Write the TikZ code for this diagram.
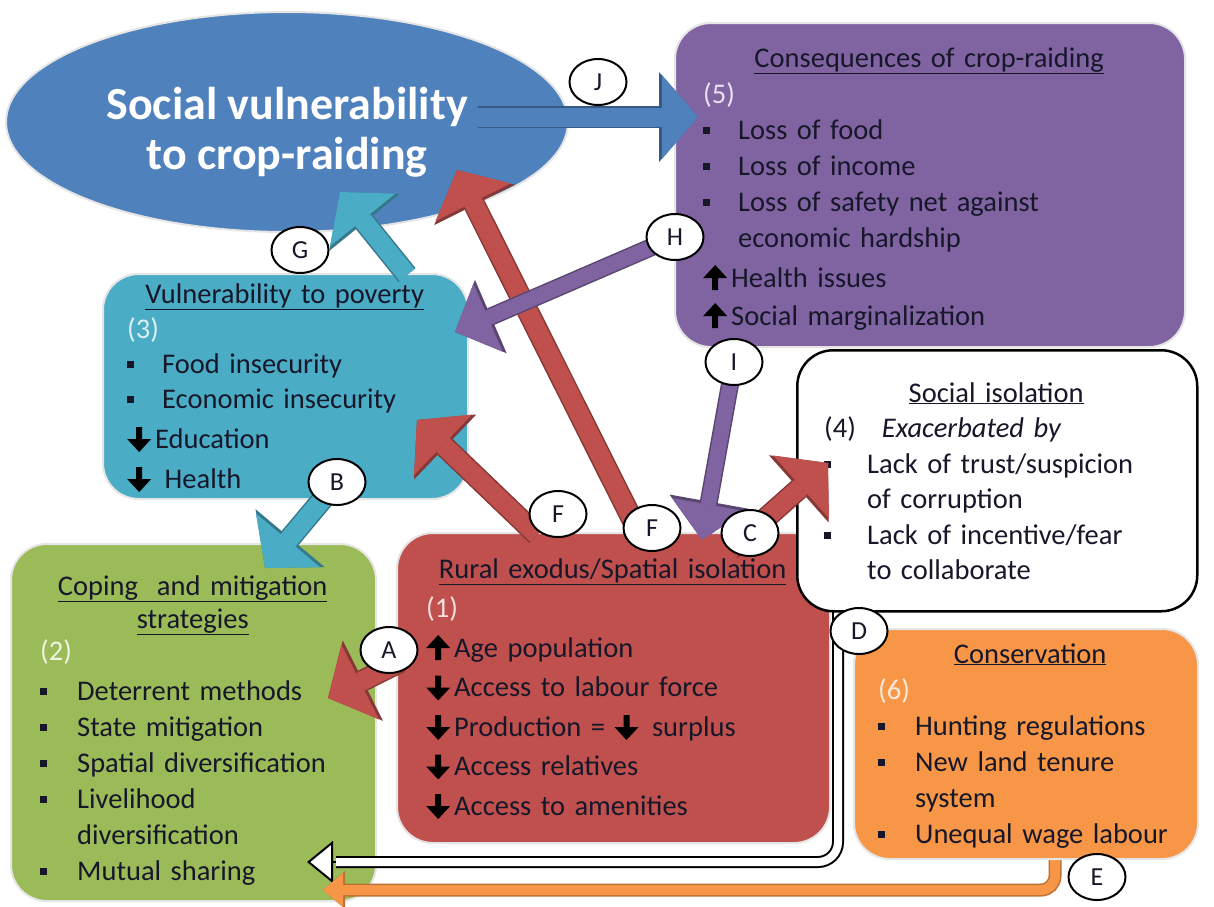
\documentclass[tikz,border=0pt]{standalone}
\usepackage{fontspec}
\setmainfont{Carlito}
\usetikzlibrary{arrows.meta, shapes.geometric}
\definecolor{azul}{HTML}{4F81BD}
\definecolor{morado}{HTML}{8064A2}
\definecolor{celeste}{HTML}{4BACC6}
\definecolor{verde}{HTML}{9BBB59}
\definecolor{rojo}{HTML}{C0504D}
\definecolor{naranja}{HTML}{F79646}
\definecolor{tinta}{HTML}{17172A}
\definecolor{palidomorado}{HTML}{E9E3F1}
\definecolor{palidoceleste}{HTML}{DDF0F5}
\definecolor{palidoverde}{HTML}{EEF4DF}
\definecolor{palidorojo}{HTML}{F6E0DF}
\definecolor{palidonaranja}{HTML}{FDEADB}
% vinetas y flechas de las listas
\newcommand{\cuadro}[1][35pt]{\makebox[#1][l]{\raisebox{5pt}{\rule{7pt}{7pt}}}\ignorespaces}
\newcommand{\sube}{\tikz[baseline=0pt,x=1pt,y=1pt]\fill[black] (-3,-3)--(-3,9)--(-12,9)--(0,22)--(12,9)--(3,9)--(3,-3)--cycle;\hspace{4pt}}
\newcommand{\baja}{\tikz[baseline=0pt,x=1pt,y=1pt]\fill[black] (-3,21)--(-3,9)--(-12,9)--(0,-4)--(12,9)--(3,9)--(3,21)--cycle;\hspace{4pt}}
\newcommand{\titulo}[2]{\makebox[#1][c]{\underline{#2}}}

\begin{document}
\begin{tikzpicture}[x=1pt, y=-1pt,
    panel/.style={rectangle, rounded corners=36pt, draw=black!10, line width=2pt,
                  fill=#1, anchor=north west, inner sep=0pt},
    lista/.style={anchor=base west, inner sep=0pt, align=left, text=tinta,
                  font=\fontsize{28.5}{36}\selectfont},
    etiqueta/.style={ellipse, draw=black, line width=2pt, fill=white, minimum width=57pt,
                     minimum height=46pt, inner sep=0pt, text=tinta, font=\fontsize{26}{28}\selectfont},
    bloque/.style={draw=#1, line width=19pt, -{Triangle[length=36pt, width=84pt, line width=0pt]},
                   preaction={draw=#1!70!black, line width=22pt,
                              -{Triangle[length=39pt, width=90pt, line width=0pt]}}},
    bloquefino/.style={draw=#1, line width=15pt, -{Triangle[length=36pt, width=74pt, line width=0pt]},
                       preaction={draw=#1!70!black, line width=18pt,
                                  -{Triangle[length=39pt, width=80pt, line width=0pt]}}}]
  \path[fill=white, use as bounding box] (0,0) rectangle (1214,906);

  % elipse central
  \node[ellipse, fill=azul, draw=black!10, line width=2pt, minimum width=562pt, minimum height=220pt,
        inner sep=0pt, text=white, align=center, font=\fontsize{46}{50}\selectfont\bfseries]
        (vulner) at (287,122) {\rule{0pt}{52pt}Social vulnerability\\to crop-raiding};

  % cajas
  \node[panel=morado, minimum width=510pt, minimum height=324pt] (conseq) at (674,22) {};
  \node[lista, text width=470pt] (conseqTxt) at (703,67) {%
    \titulo{452pt}{Consequences of crop-raiding}\\
    {\color{palidomorado}(5)}\\
    \cuadro Loss of food\\
    \cuadro Loss of income\\
    \cuadro Loss of safety net against\\
    \hspace*{35pt}economic hardship\\[4pt]
    \sube Health issues\\[2pt]
    \sube Social marginalization};

  \node[panel=celeste, minimum width=365pt, minimum height=225pt] (poverty) at (102,273) {};
  \node[lista, text width=330pt, font=\fontsize{28.5}{35}\selectfont] (povertyTxt) at (127,303) {%
    \titulo{315pt}{Vulnerability to poverty}\\
    {\color{palidoceleste}(3)}\\
    \cuadro Food insecurity\\
    \cuadro Economic insecurity\\[5pt]
    \baja Education\\[5pt]
    \baja\ Health};

  \node[panel=verde, minimum width=365pt, minimum height=357pt] (coping) at (10,543) {};
  \node[lista, text width=330pt] (copingTxt) at (40,595) {%
    \titulo{305pt}{Coping\ \ and mitigation}\\[-3pt]
    \titulo{305pt}{strategies}\\[-4pt]
    {\color{palidoverde}(2)}\\[4pt]
    \cuadro[37pt] Deterrent methods\\
    \cuadro[37pt] State mitigation\\
    \cuadro[37pt] Spatial diversification\\
    \cuadro[37pt] Livelihood\\
    \hspace*{37pt}diversification\\
    \cuadro[37pt] Mutual sharing};

  \node[panel=rojo, minimum width=433pt, minimum height=310pt] (rural) at (396,532) {};
  \node[lista, text width=380pt, font=\fontsize{28.5}{39.5}\selectfont] (ruralTxt) at (426,578) {%
    \titulo{373pt}{Rural exodus/Spatial isolation}\\
    {\color{palidorojo}(1)}\\
    \sube Age population\\
    \baja Access to labour force\\
    \baja Production = \baja\ surplus\\
    \baja Access relatives\\
    \baja Access to amenities};

  % flechas D y E por debajo de las cajas
  \coordinate (dIni) at (838,600);
  \coordinate (dBase) at (336,862);
  \coordinate (dFin) at (307,862);
  \draw[line width=2pt, -{Triangle[open, length=26pt, width=42pt, fill=white]}] (dBase) -- (dFin);
  \draw[draw=black, line width=2pt, double=white, double distance=8pt, rounded corners=20pt]
    (dIni) |- (dBase);
  \coordinate (eIni) at (1055,850);
  \coordinate (eFin) at (323,890);
  \draw[draw=naranja, line width=10pt, rounded corners=14pt,
        -{Triangle[length=20pt, width=34pt, line width=0pt]},
        preaction={draw=naranja!75!black, line width=13pt,
                   -{Triangle[length=22pt, width=38pt, line width=0pt]}}] (eIni) |- (eFin);

  \node[panel=white, draw=black, line width=2.5pt, minimum width=400pt, minimum height=261pt]
    (isolation) at (796,349) {};
  \node[lista, text width=360pt, font=\fontsize{28.5}{35.5}\selectfont] (isolationTxt) at (824,402) {%
    \titulo{344pt}{Social isolation}\\
    (4)\hspace{26pt}\textit{Exacerbated by}\\
    \cuadro[43pt] Lack of trust/suspicion\\
    \hspace*{43pt}of corruption\\
    \cuadro[43pt] Lack of incentive/fear\\
    \hspace*{43pt}to collaborate};

  \node[panel=naranja, minimum width=344pt, minimum height=230pt] (conserv) at (853,628) {};
  \node[lista, text width=320pt] (conservTxt) at (878,663) {%
    \titulo{304pt}{Conservation}\\
    {\color{palidonaranja}(6)}\\
    \cuadro[37pt] Hunting regulations\\
    \cuadro[37pt] New land tenure\\
    \hspace*{37pt}system\\
    \cuadro[37pt] Unequal wage labour};

  % flechas de bloque
  \coordinate (jIni) at (478,117);
  \coordinate (jFin) at (698,117);
  \coordinate (gIni) at (407,275);
  \coordinate (gFin) at (340,192);
  \coordinate (bIni) at (337,482);
  \coordinate (bFin) at (265,568);
  \coordinate (aIni) at (400,662);
  \coordinate (aFin) at (328,698);
  \coordinate (fIniA) at (537,535);
  \coordinate (fFinA) at (417,420);
  \coordinate (fIniB) at (640,535);
  \coordinate (fFinB) at (457,170);
  \coordinate (cIni) at (730,550);
  \coordinate (cFin) at (828,463);
  \coordinate (hIni) at (675,237);
  \coordinate (hFin) at (455,332);
  \coordinate (iIni) at (734,362);
  \coordinate (iFin) at (702,540);
  \draw[bloque=azul] (jIni) -- (jFin);
  \draw[bloque=celeste] (gIni) -- (gFin);
  \draw[bloque=celeste] (bIni) -- (bFin);
  \draw[bloque=rojo] (aIni) -- (aFin);
  \draw[bloque=rojo] (fIniA) -- (fFinA);
  \draw[bloque=rojo] (fIniB) -- (fFinB);
  \draw[bloque=rojo] (cIni) -- (cFin);
  \draw[bloquefino=morado] (hIni) -- (hFin);
  \draw[bloquefino=morado] (iIni) -- (iFin);

  % etiquetas encima de las flechas
  \node[etiqueta] (jLab) at (598,82) {J};
  \node[etiqueta] (gLab) at (300,250) {G};
  \node[etiqueta] (hLab) at (hIni) {H};
  \node[etiqueta] (iLab) at (iIni) {I};
  \node[etiqueta] (bLab) at (bIni) {B};
  \node[etiqueta] (fLabA) at (558,514) {F};
  \node[etiqueta] (fLabB) at (652,528) {F};
  \node[etiqueta] (cLab) at (750,533) {C};
  \node[etiqueta] (aLab) at (389,650) {A};
  \node[etiqueta] (dLab) at (859,631) {D};
  \node[etiqueta] (eLab) at (1097,877) {E};
\end{tikzpicture}
\end{document}
